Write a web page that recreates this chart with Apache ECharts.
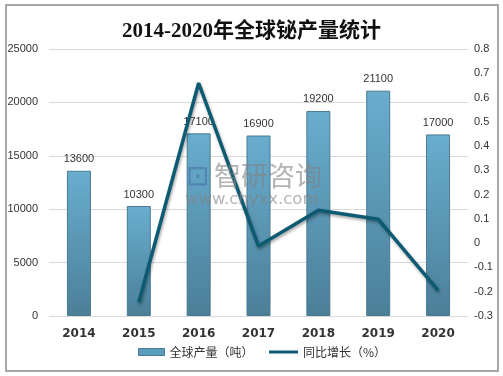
<!DOCTYPE html>
<html><head><meta charset="utf-8">
<script src="https://cdn.jsdelivr.net/npm/echarts@6/dist/echarts.min.js"></script>
<style>html,body{margin:0;padding:0;background:#fff;}#c{width:503px;height:376px;}</style>
</head><body><div id="c"></div>
<script>
var categories = ['2014','2015','2016','2017','2018','2019','2020'];
var production = [13600, 10300, 17100, 16900, 19200, 21100, 17000];
var growth = [null, -0.243, 0.66, -0.012, 0.136, 0.099, -0.194];
var title = '2014-2020年全球铋产量统计';
var legendNames = ['全球产量（吨）', '同比增长（%）'];

var numFont = '"Liberation Sans","Noto Sans",sans-serif';
var chart = echarts.init(document.getElementById('c'));
chart.setOption({
  animation: false,
  backgroundColor: '#fff',
  title: {
    text: title, left: 'center', top: 16,
    textStyle: {fontFamily: '"Liberation Serif","Noto Sans CJK SC",serif', fontWeight: 'bold', fontSize: 21, color: '#111'}
  },
  graphic: [
    {type: 'rect', shape: {x: 6, y: 5, width: 492, height: 366}, style: {fill: 'none', stroke: '#8a8a8a', lineWidth: 1.5}, z: 100},
    {type: 'text', left: 186, top: 163, style: {text: '⊡', fontSize: 28, fill: 'rgba(70,110,170,0.55)'}, z: 50},
    {type: 'text', left: 214, top: 162, style: {text: '智研咨询', fontFamily: '"Noto Sans CJK SC"', fontSize: 27, fill: 'rgba(130,130,130,0.6)'}, z: 50},
    {type: 'text', left: 185, top: 191, style: {text: 'www.chyxx.com', fontFamily: '"DejaVu Sans",sans-serif', fontSize: 16.5, fill: 'rgba(130,130,130,0.6)'}, z: 50}
  ],
  legend: [
    {left: 133, bottom: 13, itemGap: 4,
     textStyle: {fontFamily: '"Noto Sans CJK SC"', fontSize: 12, color: '#333'},
     data: [{name: legendNames[0], icon: 'rect', itemStyle: {color: '#5a9dbd', borderColor: '#4a7a90', borderWidth: 1}}],
     itemWidth: 26, itemHeight: 7},
    {left: 264, bottom: 13,
     textStyle: {fontFamily: '"Noto Sans CJK SC"', fontSize: 12, color: '#333'},
     data: [{name: legendNames[1], icon: 'rect', itemStyle: {color: '#0d5a73', borderWidth: 0}}],
     itemWidth: 29, itemHeight: 3}
  ],
  grid: {left: 49, right: 35, top: 49, bottom: 60},
  xAxis: {
    type: 'category', data: categories,
    axisLine: {show: false}, axisTick: {show: false},
    axisLabel: {fontWeight: 'bold', fontSize: 12, color: '#333', margin: 12, fontFamily: '"DejaVu Sans",sans-serif'}
  },
  yAxis: [
    {type: 'value', min: 0, max: 25000, interval: 5000,
     axisLine: {show: false}, axisTick: {show: false},
     axisLabel: {fontSize: 11, color: '#333', margin: 11, fontFamily: numFont, formatter: function (v) { return String(v); }},
     splitLine: {lineStyle: {color: '#d9d9d9'}}},
    {type: 'value', min: -0.3, max: 0.8, interval: 0.1,
     axisLine: {show: false}, axisTick: {show: false}, splitLine: {show: false},
     axisLabel: {fontSize: 11, color: '#333', margin: 6, fontFamily: numFont,
       formatter: function (v) { var r = Math.round(v * 10) / 10; return r === 0 ? '0' : String(r); }}}
  ],
  series: [
    {name: legendNames[0], type: 'bar', data: production, barWidth: 24,
     itemStyle: {
       color: new echarts.graphic.LinearGradient(0, 0, 0, 1, [{offset: 0, color: '#69adcf'}, {offset: 1, color: '#4b7f98'}]),
       borderColor: '#4a7a90', borderWidth: 1
     },
     label: {show: true, position: 'top', fontSize: 11, color: '#333', distance: 6, fontFamily: numFont}},
    {name: legendNames[1], type: 'line', yAxisIndex: 1, data: growth, showSymbol: false, symbol: 'none',
     lineStyle: {color: '#0d5a73', width: 3.5, shadowColor: 'rgba(0,0,0,0.35)', shadowBlur: 3, shadowOffsetX: 1, shadowOffsetY: 2},
     itemStyle: {color: '#0d5a73'}, z: 10}
  ]
});
</script></body></html>
